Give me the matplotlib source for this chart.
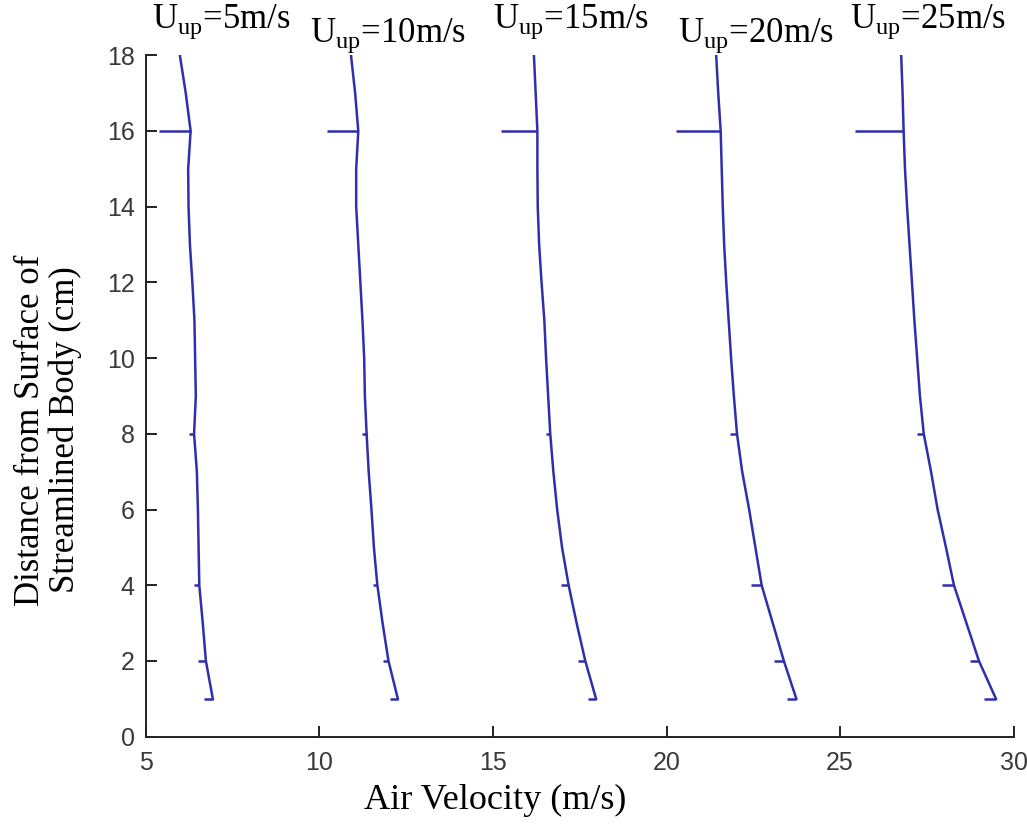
import numpy as np
import matplotlib
matplotlib.use("Agg")
import matplotlib.pyplot as plt

plt.rcParams['mathtext.fontset'] = 'custom'
plt.rcParams['mathtext.rm'] = 'Liberation Serif'

# ================= DATA ===================
heights = [1, 2, 3, 4, 5, 6, 7, 8, 9, 10, 11, 12, 13, 14, 15, 16, 17, 18]

u5 = [6.93, 6.73, 6.64, 6.54, 6.52, 6.50, 6.47, 6.39, 6.44, 6.42, 6.40, 6.34,
      6.27, 6.23, 6.22, 6.29, 6.15, 5.98]
u10 = [12.26, 11.99, 11.82, 11.67, 11.57, 11.50, 11.42, 11.36, 11.31, 11.29,
       11.24, 11.18, 11.12, 11.06, 11.06, 11.12, 11.03, 10.91]
u15 = [17.97, 17.66, 17.41, 17.18, 16.99, 16.85, 16.74, 16.65, 16.59, 16.53,
       16.48, 16.40, 16.33, 16.29, 16.28, 16.28, 16.23, 16.18]
u20 = [23.74, 23.38, 23.06, 22.74, 22.56, 22.38, 22.18, 22.03, 21.94, 21.86,
       21.79, 21.72, 21.66, 21.62, 21.59, 21.56, 21.49, 21.43]
u25 = [29.49, 29.00, 28.64, 28.28, 28.05, 27.81, 27.62, 27.41, 27.30, 27.22,
       27.14, 27.07, 27.00, 26.93, 26.87, 26.83, 26.80, 26.76]

# short horizontal marks at the measuring heights (left end of each mark)
mark_heights = [1, 2, 4, 8, 16]
mark_left5 = [6.69, 6.49, 6.39, 6.24, 5.39]
mark_left10 = [12.02, 11.84, 11.54, 11.22, 10.22]
mark_left15 = [17.74, 17.44, 16.96, 16.52, 15.24]
mark_left20 = [23.46, 23.11, 22.44, 21.84, 20.26]
mark_left25 = [29.14, 28.73, 27.95, 27.21, 25.43]

labels = [r'U$_{\mathrm{up}}$=5m/s', r'U$_{\mathrm{up}}$=10m/s', r'U$_{\mathrm{up}}$=15m/s',
          r'U$_{\mathrm{up}}$=20m/s', r'U$_{\mathrm{up}}$=25m/s']
label_x = [7.17, 11.97, 17.25, 22.58, 27.54]
label_y = [18.87, 18.52, 18.87, 18.52, 18.87]

profiles = [u5, u10, u15, u20, u25]
marks = [mark_left5, mark_left10, mark_left15, mark_left20, mark_left25]

# ================= PLOT ===================
line_color = '#2f2fae'
fig = plt.figure(figsize=(10.27, 8.24), dpi=100)
ax = fig.add_axes([0.142, 0.106, 0.845, 0.827])

for prof, left in zip(profiles, marks):
    ax.plot(prof, heights, color=line_color, lw=1.8)
    right = [prof[heights.index(h)] for h in mark_heights]
    ax.hlines(mark_heights, left, right, color=line_color, lw=1.8)

for lab, lx, ly in zip(labels, label_x, label_y):
    ax.text(lx, ly, lab, ha='center', va='center', fontsize=25,
            family='Liberation Serif', clip_on=False)

ax.set_xlim(5, 30)
ax.set_ylim(0, 18)
ax.set_xticks(range(5, 31, 5))
ax.set_yticks(range(0, 19, 2))
ax.spines['top'].set_visible(False)
ax.spines['right'].set_visible(False)
for s in ['left', 'bottom']:
    ax.spines[s].set_linewidth(1.4)
    ax.spines[s].set_color('#222222')
ax.tick_params(direction='in', length=8, width=1.4, color='#222222',
               labelsize=18, labelcolor='#3a3a3a')
ax.tick_params(axis='x', pad=10)
ax.tick_params(axis='y', pad=8)
for t in ax.get_xticklabels() + ax.get_yticklabels():
    t.set_family('Liberation Sans')

ax.set_xlabel('Air Velocity (m/s)', fontsize=26, family='Liberation Serif')
ax.set_ylabel('Distance from Surface of\nStreamlined Body (cm)', fontsize=25,
              family='Liberation Serif', linespacing=1.05)
ax.xaxis.set_label_coords(0.403, -0.07)
ax.yaxis.set_label_coords(-0.074, 0.45)

fig.savefig('out.png', dpi=100, facecolor='white')
